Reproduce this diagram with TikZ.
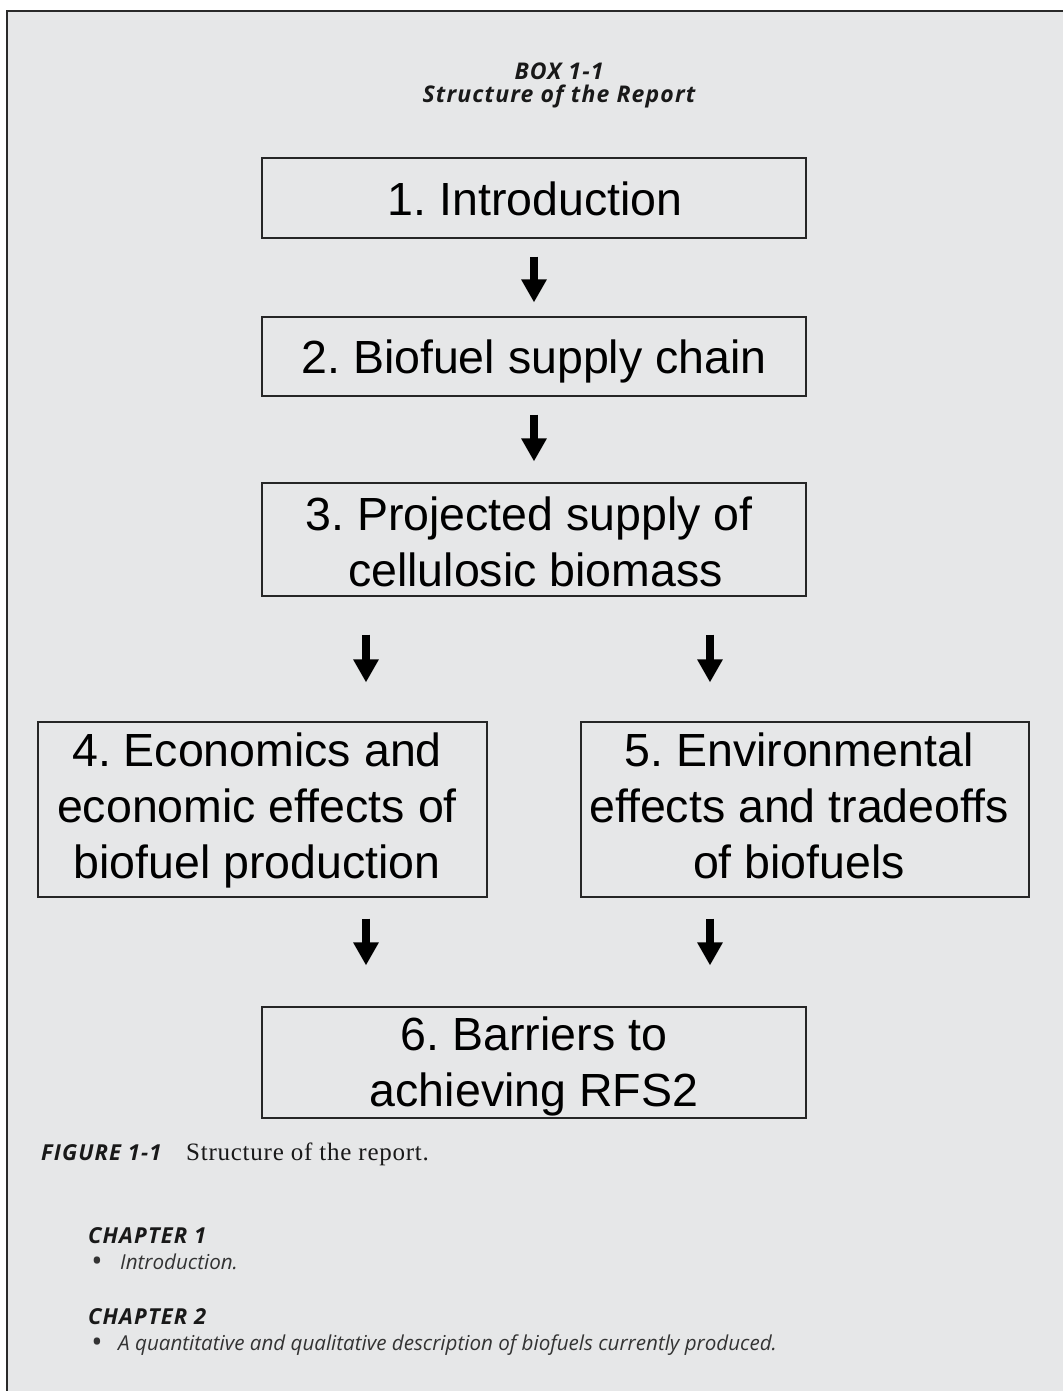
\documentclass[tikz,border=0pt]{standalone}
\usepackage{fontspec}
\setmainfont{Liberation Sans}
\newfontfamily\capserif[LetterSpace=3]{Liberation Serif}
\newfontfamily\hdwide[LetterSpace=5]{Open Sans}
\newfontfamily\bodysans{Open Sans}
\usetikzlibrary{arrows.meta}
\definecolor{panelgray}{HTML}{E6E7E8}
\definecolor{framegray}{HTML}{2A2A2A}
\definecolor{inkgray}{HTML}{333333}
\frenchspacing
\tikzset{
  chapbox/.style={draw=black!85, line width=1.1pt, inner sep=0pt},
  boxtext/.style={align=center, inner sep=0pt, text=black,
    font=\fontsize{46.5}{56}\selectfont},
  bigarrow/.style={line width=8pt, -{Triangle[width=24pt,length=23pt]}},
  headtext/.style={anchor=base, inner sep=0pt, text=black!90,
    font=\hdwide\bfseries\itshape\fontsize{23}{26}\selectfont},
  chaphead/.style={anchor=base west, inner sep=0pt, text=black!90,
    font=\hdwide\bfseries\itshape\fontsize{22}{24}\selectfont},
  chapitem/.style={anchor=base west, inner sep=0pt, text=inkgray,
    font=\bodysans\itshape\fontsize{20.6}{24}\selectfont},
  bulletmark/.style={anchor=base, inner sep=0pt, text=inkgray,
    font=\bodysans\fontsize{30}{30}\selectfont},
}
\begin{document}
\begin{tikzpicture}[x=1pt,y=-1pt]
\useasboundingbox (0,0) rectangle (1063,1391);
\fill[white] (0,0) rectangle (1063,1391);
\fill[panelgray] (7,11) rectangle (1063,1391);
\draw[framegray, line width=1.6pt] (7,1391) -- (7,11) -- (1063,11);

\node[headtext] (hdr1) at (559,80) {BOX 1-1};
\node[headtext] (hdr2) at (559,103) {Structure of the Report};

% boxes
\node[chapbox, minimum width=544pt, minimum height=80pt] (n1) at (534,198) {};
\node[chapbox, minimum width=544pt, minimum height=79pt] (n2) at (534,356.5) {};
\node[chapbox, minimum width=544pt, minimum height=113pt] (n3) at (534,539.5) {};
\node[chapbox, minimum width=449pt, minimum height=175pt] (n4) at (262.5,809.5) {};
\node[chapbox, minimum width=448pt, minimum height=175pt] (n5) at (805,809.5) {};
\node[chapbox, minimum width=544pt, minimum height=111pt] (n6) at (534,1062.5) {};

% box texts (struts give every line the same height and depth)
\node[boxtext] (t1) at (535,204) {\strut 1. Introduction\strut};
\node[boxtext] (t2) at (534,362) {\strut 2. Biofuel supply chain\strut};
\node[boxtext] (t3) at (529,547) {\strut 3. Projected supply of\\ \ cellulosic biomass\strut};
\node[boxtext] (t4) at (257,811) {\strut 4. Economics and\\economic effects of\\biofuel production\strut};
\node[boxtext] (t5) at (799,811) {\strut 5. Environmental\\effects and tradeoffs\\of biofuels\strut};
\node[boxtext] (t6) at (534,1067) {\strut 6. Barriers to\\achieving RFS2\strut};

% arrows
\coordinate (lx) at (366,0);
\coordinate (rx) at (710,0);
\draw[bigarrow, shorten <=18pt, shorten >=14pt] (n1.south) -- (n2.north);
\draw[bigarrow, shorten <=18pt, shorten >=21pt] (n2.south) -- (n3.north);
\draw[bigarrow, shorten <=38pt, shorten >=39pt] (n3.south -| lx) -- (n4.north -| lx);
\draw[bigarrow, shorten <=38pt, shorten >=39pt] (n3.south -| rx) -- (n5.north -| rx);
\draw[bigarrow, shorten <=21pt, shorten >=41pt] (n4.south -| lx) -- (n6.north -| lx);
\draw[bigarrow, shorten <=21pt, shorten >=41pt] (n5.south -| rx) -- (n6.north -| rx);

% caption
\node[anchor=base west, inner sep=0pt, text=black!90,
  font=\hdwide\bfseries\itshape\fontsize{22}{24}\selectfont] (fig) at (41,1160) {FIGURE 1-1};
\node[anchor=base west, inner sep=0pt, text=black!90,
  font=\capserif\fontsize{25}{28}\selectfont] (figcap) at (186,1160) {Structure of the report.};

% chapter list
\node[chaphead] (c1) at (88,1243) {CHAPTER 1};
\node[bulletmark] (d1) at (97,1271) {•};
\node[chapitem] (b1) at (120,1269) {Introduction.};
\node[chaphead] (c2) at (88,1324) {CHAPTER 2};
\node[bulletmark] (d2) at (97,1352) {•};
\node[chapitem] (b2) at (118,1350) {A quantitative and qualitative description of biofuels currently produced.};
\end{tikzpicture}
\end{document}
